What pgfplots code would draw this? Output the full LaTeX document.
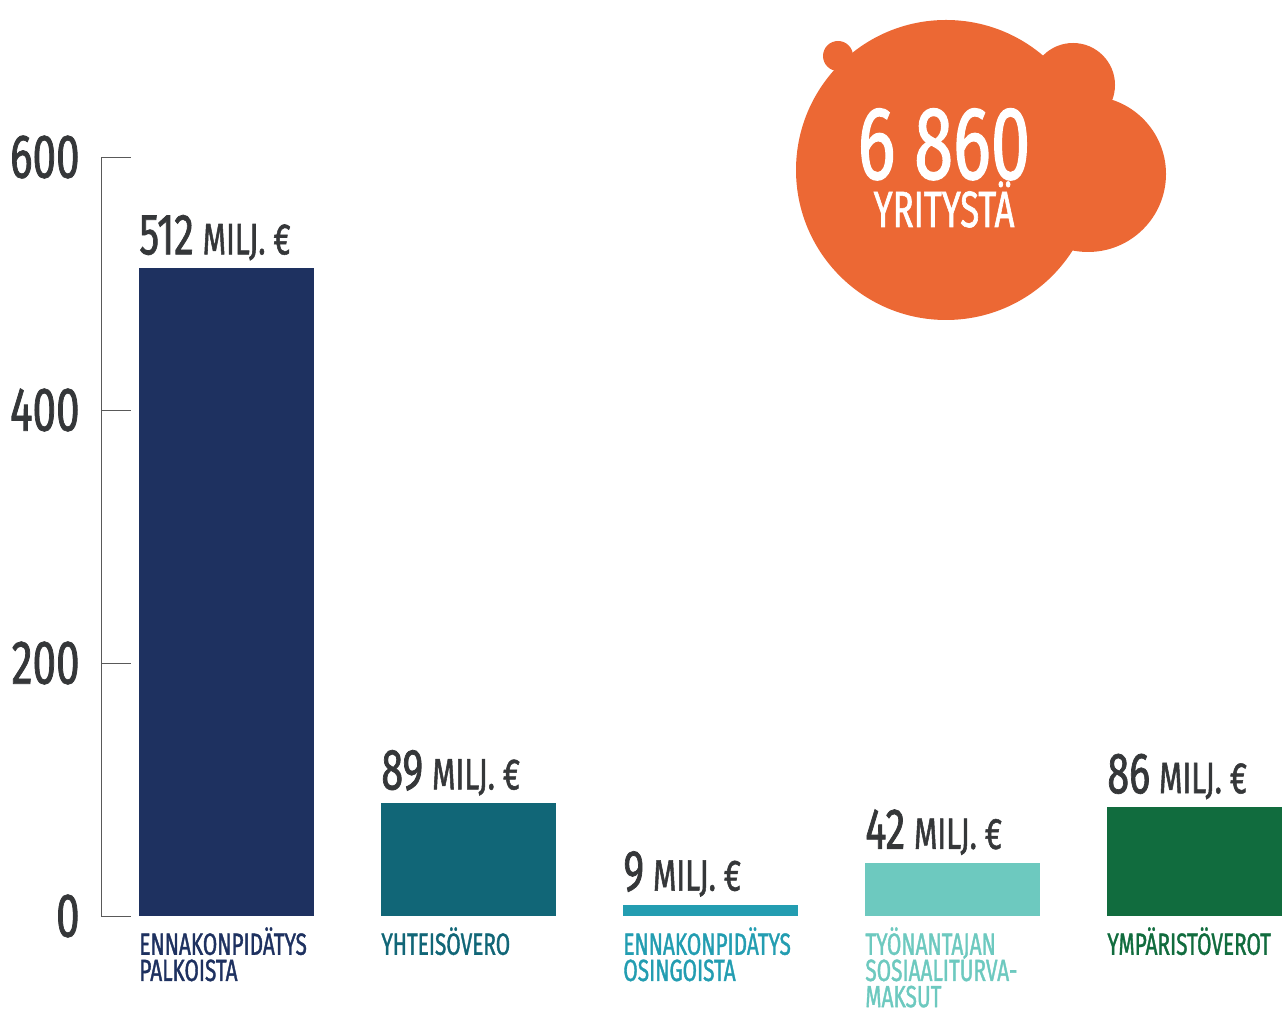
\documentclass[border=0pt]{standalone}
\usepackage{pgfplots}
\pgfplotsset{compat=1.18}
\usepackage{fontspec}
\setmainfont{Fira Sans}[FakeStretch=0.68, FakeBold=1.2]
\definecolor{c1}{HTML}{1E3160}
\definecolor{c2}{HTML}{116677}
\definecolor{c3}{HTML}{239DB1}
\definecolor{c4}{HTML}{6DC9BF}
\definecolor{c5}{HTML}{116C3E}
\definecolor{txt}{HTML}{353739}
\definecolor{bub}{HTML}{EC6834}
\newcommand{\valfont}{\fontsize{29bp}{29bp}\selectfont}
\newcommand{\unitfont}{\fontsize{22bp}{22bp}\selectfont}
\begin{document}
\begin{tikzpicture}
\useasboundingbox (0,0) rectangle (641bp,505bp);
\begin{axis}[
  at={(50.5bp,47bp)}, anchor=south west,
  scale only axis, width=590.5bp, height=379.5bp,
  xmin=-0.5186, xmax=4.3616, ymin=0, ymax=600,
  axis x line*=bottom, axis y line*=left,
  x axis line style={draw=none},
  y axis line style={-, draw=black!65, line width=0.5bp},
  ytick={0,200,400,600},
  ytick style={draw=black!65, line width=0.5bp},
  major tick length=15bp, tick align=inside,
  yticklabel style={font=\fontsize{31bp}{31bp}\selectfont, text=txt, inner sep=0pt, anchor=east, xshift=-10.5bp},
  /pgf/number format/assume math mode=true,
  xtick={0,1,2,3,4},
  major x tick style={draw=none},
  xticklabels={
    \color{c1}ENNAKONPIDÄTYS\\\color{c1}PALKOISTA,
    \color{c2}YHTEISÖVERO,
    \color{c3}ENNAKONPIDÄTYS\\\color{c3}OSINGOISTA,
    \color{c4}TYÖNANTAJAN\\\color{c4}SOSIAALITURVA-\\\color{c4}MAKSUT,
    \color{c5}YMPÄRISTÖVEROT},
  xticklabel style={font=\fontsize{15.3bp}{13.1bp}\selectfont, align=left, anchor=north west, inner sep=0pt, xshift=-43.75bp, yshift=9.5bp},
  ybar, bar width=0.723, bar shift=0pt,
  point meta=explicit symbolic,
  nodes near coords={{\valfont\pgfplotspointmeta}\hspace{4.5bp}{\unitfont MILJ.~€}},
  every node near coord/.append style={anchor=base west, inner sep=0pt, xshift=-43.75bp, yshift=7bp, text=txt},
  clip=false,
]
\addplot[fill=c1, draw=none] coordinates {(0,512) [512]};
\addplot[fill=c2, draw=none] coordinates {(1,89) [89]};
\addplot[fill=c3, draw=none] coordinates {(2,9) [9]};
\addplot[fill=c4, draw=none] coordinates {(3,42) [42]};
\addplot[fill=c5, draw=none] coordinates {(4,86) [86]};
\end{axis}
\fill[bub] (473bp,420bp) circle (75bp);
\fill[bub] (544bp,418bp) circle (39bp);
\fill[bub] (536.5bp,462.5bp) circle (21bp);
\fill[bub] (419bp,477bp) circle (7.5bp);
\node[anchor=base, inner sep=0pt, text=white, font=\fontsize{52bp}{52bp}\selectfont] at (472bp,415.5bp) {6 860};
\node[anchor=base, inner sep=0pt, text=white, font=\fontsize{25.5bp}{25.5bp}\selectfont] at (472bp,391.5bp) {YRITYSTÄ};
\end{tikzpicture}
\end{document}
